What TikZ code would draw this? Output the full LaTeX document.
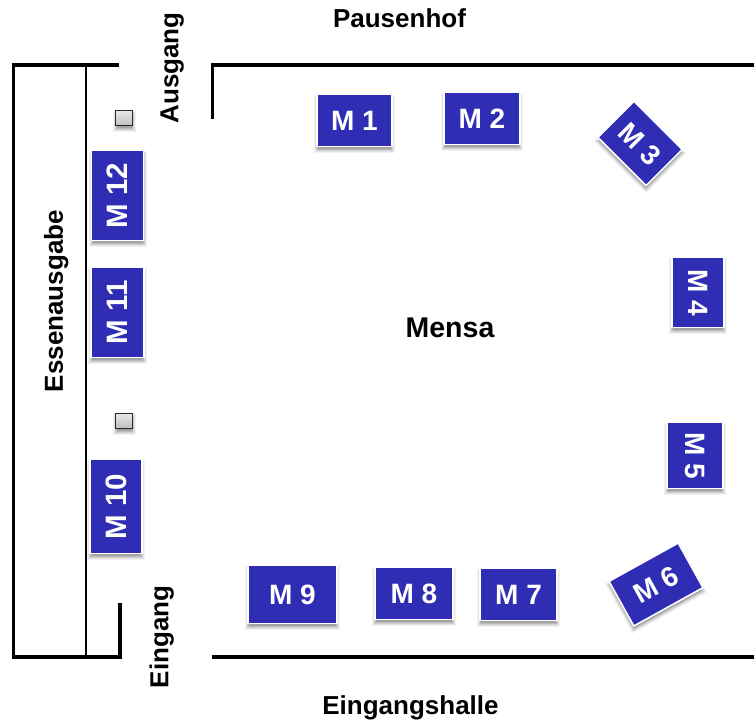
\documentclass[tikz,border=0pt]{standalone}
\usepackage{fontspec}
\setmainfont{Liberation Sans}
\definecolor{tableblue}{HTML}{2F2DB4}
\newcommand{\softshadow}[5]{%
  \foreach \s/\o in {3/.05,2/.06,1/.08,0/.10,-1/.12}{%
    \fill[black,opacity=\o,shift={(#1,#2+3.5)},rotate=#5]
      (-#3/2-\s,-#4/2-\s) rectangle (#3/2+\s,#4/2+\s);}}
\newcommand{\tbl}[7]{% name x y w h angle text
  \softshadow{#2}{#3}{#4}{#5}{#6}
  \node[tablebox,minimum width=#4pt,minimum height=#5pt,rotate=#6] (#1) at (#2,#3) {#7};}
\newcommand{\bin}[3]{%
  \softshadow{#2}{#3}{17}{15}{0}
  \node[binbox] (#1) at (#2,#3) {};}
\tikzset{
  tablebox/.style={draw=white,line width=1.5pt,fill=tableblue,inner sep=0pt,text=white,
    font=\bfseries\fontsize{28}{30}\selectfont,text height=20pt,text depth=0pt,align=center},
  widelabel/.style={font=\bfseries\fontsize{29.5}{30}\selectfont},
  binbox/.style={draw=black!85,line width=.9pt,top color=gray!18,bottom color=gray!50,
    minimum width=17pt,minimum height=15pt,inner sep=0pt},
  roomlabel/.style={inner sep=0pt,text=black,font=\bfseries\fontsize{26}{30}\selectfont,
    text height=18.6pt,text depth=0pt},
  wall/.style={line width=3.4pt,line cap=butt,line join=miter,black},
  thinwall/.style={line width=1.3pt,black}
}
\begin{document}
\begin{tikzpicture}[x=1pt,y=-1pt]
\useasboundingbox (0,0) rectangle (754,721);
\fill[white] (0,0) rectangle (754,721);
% walls
\draw[thinwall] (86,65) -- (86,657);
\draw[wall] (119,65) -- (13.5,65) -- (13.5,657) -- (120,657) -- (120,603);
\draw[wall] (212.5,119) -- (212.5,65) -- (754,65);
\draw[wall] (212,657) -- (754,657);
% tables
\tbl{m1}{354.5}{120.5}{75}{52}{0}{M 1}
\tbl{m2}{482}{118.5}{76}{52}{0}{M 2}
\tbl{m3}{640}{143.5}{68}{51}{-45}{M 3}
\tbl{m4}{698}{292.5}{70}{52}{-90}{M 4}
\tbl{m5}{695}{455.5}{66}{56}{-90}{M 5}
\tbl{m6}{656}{584.5}{79}{51}{29}{M 6}
\tbl{m7}{518.5}{594.5}{77}{52}{0}{M 7}
\tbl{m8}{414}{593.5}{78}{52}{0}{M 8}
\tbl{m9}{292.5}{594.5}{89}{58}{0}{M 9}
\tbl{m10}{116}{506.5}{94}{52}{90}{\tikzset{}\fontsize{29.5}{30}\selectfont M 10}
\tbl{m11}{117.5}{312.5}{90}{53}{90}{\fontsize{29.5}{30}\selectfont M 11}
\tbl{m12}{117.5}{195.5}{90}{52}{90}{\fontsize{29.5}{30}\selectfont M 12}
% small squares
\bin{b1}{124}{118}
\bin{b2}{124}{421}
% labels
\node[roomlabel] (pausenhof) at (399.5,18.5) {Pausenhof};
\node[roomlabel] (eingangshalle) at (410.5,705.5) {Eingangshalle};
\node[roomlabel,rotate=90] (ausgang) at (169,68) {Ausgang};
\node[roomlabel,rotate=90] (eingang) at (159,637) {Eingang};
\node[roomlabel,rotate=90] (essen) at (53.5,301) {Essenausgabe};
\node[roomlabel,font=\bfseries\fontsize{28.5}{30}\selectfont,text height=20.4pt] (mensa) at (450,327) {Mensa};
\end{tikzpicture}
\end{document}
